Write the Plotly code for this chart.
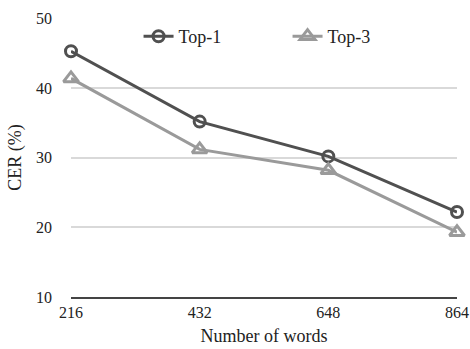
import plotly.graph_objects as go

words = [216, 432, 648, 864]
top1 = [45.3, 35.2, 30.2, 22.2]
top3 = [41.4, 31.2, 28.2, 19.3]
y_ticks = [10, 20, 30, 40, 50]

font_family = "'Liberation Serif', 'Times New Roman', serif"

fig = go.Figure()
fig.add_trace(go.Scatter(
    x=words, y=top1, name="Top-1", mode="lines+markers",
    line=dict(color="#505050", width=3),
    marker=dict(symbol="circle-open", size=11, color="#505050", line=dict(width=3)),
    cliponaxis=False,
))
fig.add_trace(go.Scatter(
    x=words, y=top3, name="Top-3", mode="lines+markers",
    line=dict(color="#9a9a9a", width=3),
    marker=dict(symbol="triangle-up-open", size=13, color="#9a9a9a", line=dict(width=3)),
    cliponaxis=False,
))

fig.update_layout(
    width=470, height=349,
    margin=dict(l=71, r=13, t=18, b=52),
    paper_bgcolor="white", plot_bgcolor="white",
    font=dict(family=font_family, size=16, color="#222222"),
    showlegend=True,
    legend=dict(orientation="h", x=0.175, y=1.0, xanchor="left", yanchor="top",
                font=dict(size=18, color="#222222"), itemwidth=30,
                entrywidth=104, entrywidthmode="pixels",
                bgcolor="rgba(0,0,0,0)", traceorder="normal"),
    xaxis=dict(
        range=[216, 864], tickmode="array", tickvals=words,
        ticktext=[str(w) for w in words],
        showgrid=False, zeroline=False, automargin=False,
        showline=True, linecolor="#444444", linewidth=1.5,
        ticks="", tickfont=dict(size=16, color="#222222"),
        title=dict(text="Number of words", font=dict(size=18, color="#222222"), standoff=9),
    ),
    yaxis=dict(
        range=[10, 50.08], tickmode="array", tickvals=y_ticks,
        showgrid=True, gridcolor="#d9d9d9", gridwidth=1.5,
        zeroline=False, showline=False, ticks="", automargin=False,
        tickfont=dict(size=16, color="#222222"), ticklabelstandoff=18,
        title=dict(text="CER (%)", font=dict(size=18, color="#222222"), standoff=9),
    ),
)

fig.write_html("out.html", config={"displayModeBar": False},
               post_script="document.body.style.margin='0';")
